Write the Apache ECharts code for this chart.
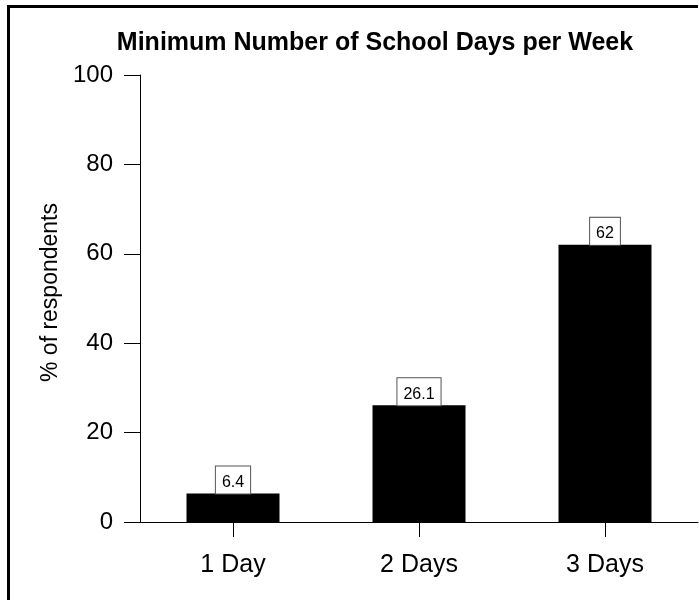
<!DOCTYPE html>
<html>
<head>
<meta charset="utf-8">
<script src="https://cdn.jsdelivr.net/npm/echarts@6/dist/echarts.min.js"></script>
<style>
html,body{margin:0;padding:0;background:#fff;}
#c{width:699px;height:600px;}
</style>
</head>
<body>
<div id="c"></div>
<script>
var titleText = 'Minimum Number of School Days per Week';
var categories = ['1 Day', '2 Days', '3 Days'];
var values = [6.4, 26.1, 62];
var yTicks = [0, 20, 40, 60, 80, 100];
var yAxisName = '% of respondents';

var FONT = 'Liberation Sans, Arial, Helvetica, sans-serif';
var chart = echarts.init(document.getElementById('c'), null, {renderer: 'canvas'});
chart.setOption({
  animation: false,
  backgroundColor: '#fff',
  title: {
    text: titleText,
    left: 370, top: 26, textAlign: 'center',
    textStyle: {fontFamily: FONT, fontSize: 25, fontWeight: 'bold', color: '#000'}
  },
  grid: {left: 140, right: 1, top: 75, bottom: 78, containLabel: false},
  xAxis: {
    type: 'category',
    data: categories,
    axisLine: {show: true, lineStyle: {color: '#000', width: 1}},
    axisTick: {show: true, alignWithLabel: true, length: 15, lineStyle: {color: '#000'}},
    axisLabel: {fontFamily: FONT, fontSize: 25, color: '#000', margin: 31}
  },
  yAxis: {
    type: 'value',
    min: yTicks[0], max: yTicks[yTicks.length - 1], interval: 20,
    name: yAxisName,
    nameLocation: 'middle',
    nameGap: 78,
    nameTextStyle: {fontFamily: FONT, fontSize: 23, color: '#000', padding: [0, 0, 0, 12]},
    splitLine: {show: false},
    axisLine: {show: true, lineStyle: {color: '#000', width: 1}},
    axisTick: {show: true, length: 16, lineStyle: {color: '#000'}},
    axisLabel: {fontFamily: FONT, fontSize: 24, color: '#000', margin: 27}
  },
  series: [{
    type: 'bar',
    data: values,
    barWidth: '50%',
    itemStyle: {color: '#000'},
    label: {
      show: true,
      position: 'top',
      distance: 0,
      fontFamily: FONT,
      fontSize: 16,
      color: '#000',
      backgroundColor: '#fff',
      borderColor: '#555',
      borderWidth: 1,
      padding: [8, 6, 3, 6],
      lineHeight: 16
    }
  }],
  graphic: [{
    type: 'polyline',
    shape: {points: [[8.5, 600], [8.5, 6.5], [698, 6.5]]},
    style: {stroke: '#000', lineWidth: 3, fill: null}
  }]
});
</script>
</body>
</html>
